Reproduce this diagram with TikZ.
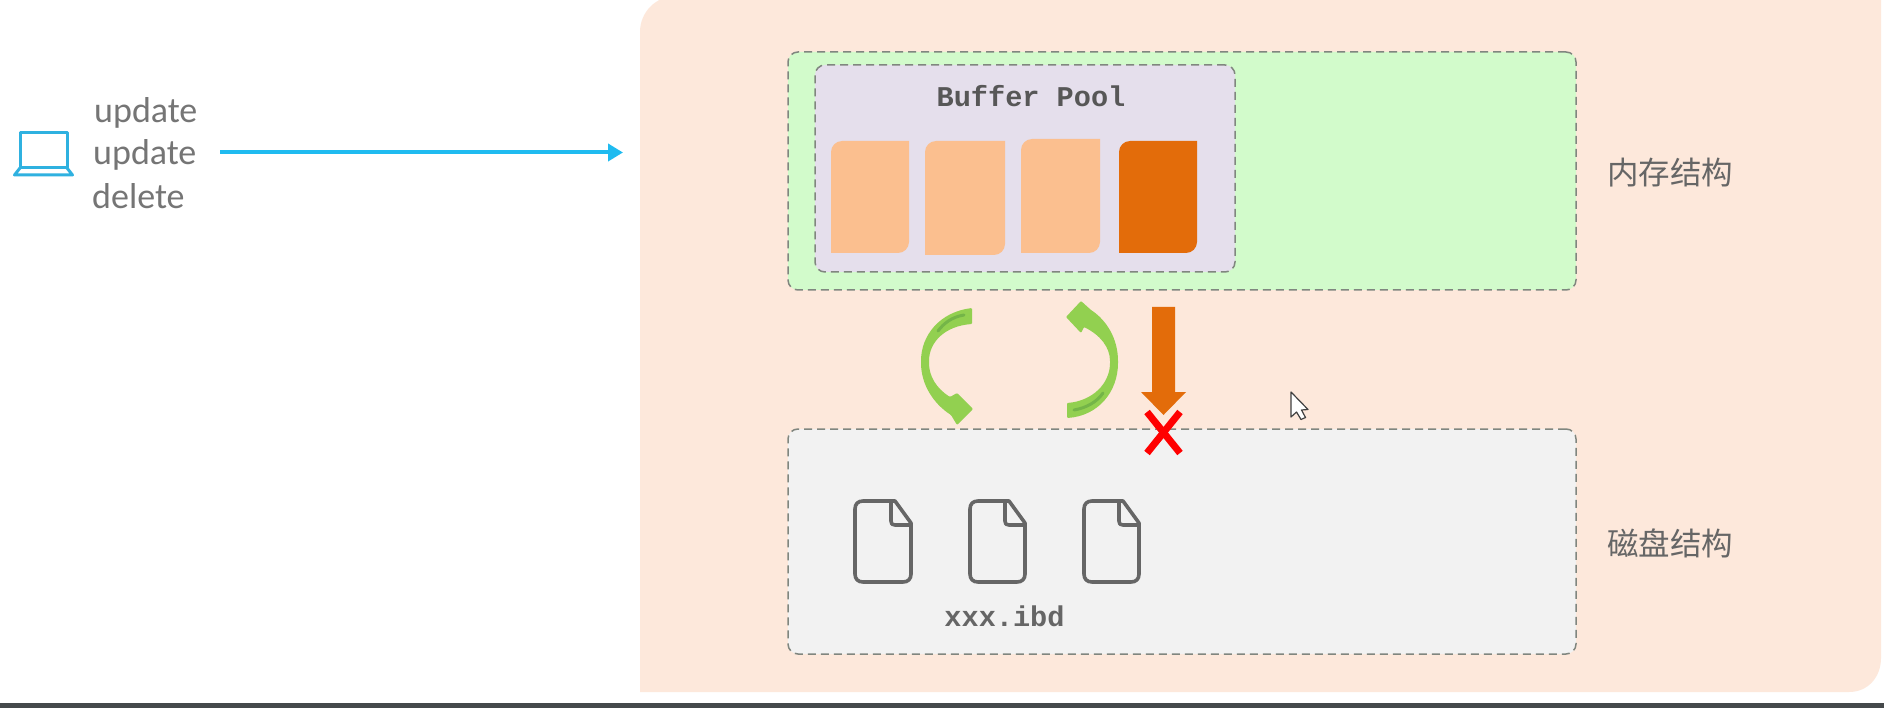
\documentclass[tikz,border=0pt]{standalone}
\usepackage{fontspec}
\setmainfont{Carlito}
\newfontfamily\cjkface{Noto Sans CJK SC}
\newfontfamily\codeface{Liberation Mono}[BoldFont={Liberation Mono Bold}]
\usetikzlibrary{arrows.meta}
\definecolor{peach}{HTML}{FDE8DB}
\definecolor{memgreen}{HTML}{D2FBCB}
\definecolor{poolbg}{HTML}{E5DFEC}
\definecolor{diskbg}{HTML}{F2F2F2}
\definecolor{lightpage}{HTML}{FBBF8F}
\definecolor{darkpage}{HTML}{E36C0A}
\definecolor{swapgreen}{HTML}{92D050}
\definecolor{swapdark}{HTML}{74B548}
\definecolor{linkblue}{HTML}{1FBBF0}
\definecolor{laptopblue}{HTML}{2FB1E0}
\definecolor{dashgrey}{HTML}{80867F}
\definecolor{inkgrey}{HTML}{666666}
\definecolor{softgrey}{HTML}{757575}
\definecolor{barcol}{HTML}{45494B}
\tikzset{
  region/.style={draw=dashgrey,line width=1.5pt,dash pattern=on 8pt off 5pt,rounded corners=10pt,inner sep=0pt},
  sqltext/.style={text=softgrey,font=\fontsize{36}{36}\selectfont,anchor=base west,inner sep=0pt},
  codetext/.style={text=#1,font=\codeface\bfseries\fontsize{28.6}{28.6}\selectfont,anchor=base,inner sep=0pt},
  arealabel/.style={text=inkgrey,font=\cjkface\fontsize{31.5}{31.5}\selectfont,inner sep=0pt},
  fileicon/.style={draw=inkgrey,line width=3.6pt,line join=round},
}
% A page card with its top-left and bottom-right corners rounded
\newcommand{\pagecard}[5]{%
  \fill[#1] (#2,#5) -- (#2,#3+11) .. controls (#2,#3+5) and (#2+5,#3) .. (#2+11,#3) -- (#4,#3)
    -- (#4,#5-11) .. controls (#4,#5-5) and (#4-5,#5) .. (#4-11,#5) -- cycle;}
% A document icon: right, left, top, bottom, fold position
\newcommand{\docicon}[5]{%
  \draw[fileicon] (#5+4,#3) -- (#2+8,#3) .. controls (#2+3,#3) and (#2,#3+3) .. (#2,#3+8) -- (#2,#4-8)
    .. controls (#2,#4-3) and (#2+3,#4) .. (#2+8,#4) -- (#1-8,#4) .. controls (#1-3,#4) and (#1,#4-3) .. (#1,#4-8)
    -- (#1,#3+22) -- cycle;
  \draw[fileicon] (#5,#3) -- (#5,#3+20) .. controls (#5,#3+23) and (#5+1,#3+24) .. (#5+4,#3+24) -- (#1,#3+24);}
\begin{document}
\begin{tikzpicture}[x=1pt,y=-1pt]
\useasboundingbox (0,0) rectangle (1884,708);
\fill[white] (0,0) rectangle (1884,708);

% Outer panel
\fill[peach] (640,692) -- (640,32) .. controls (640,12) and (656,-4) .. (676,-4) -- (1881,-4)
  -- (1881,658) .. controls (1881,677) and (1868,692) .. (1849,692) -- cycle;
\fill[barcol] (0,703) rectangle (1884,708);

% Memory and disk regions
\node[region,fill=memgreen,minimum width=788pt,minimum height=238pt] (memory) at (1182,171) {};
\node[region,fill=diskbg,minimum width=788pt,minimum height=225pt] (disk) at (1182,541.5) {};
\node[region,fill=poolbg,minimum width=420pt,minimum height=207pt] (pool) at (1025,168.5) {};

\node[codetext=inkgrey!85!black] (pooltitle) at (1031,107) {Buffer Pool};
\pagecard{lightpage}{831}{141}{909}{253}
\pagecard{lightpage}{925}{141}{1005}{255}
\pagecard{lightpage}{1021}{139}{1100}{253}
\pagecard{darkpage}{1119}{141}{1197}{253}

\node[arealabel] (memlabel) at (1670,173) {内存结构};
\node[arealabel] (disklabel) at (1670,543) {磁盘结构};

% Data files on disk
\docicon{911}{855}{501}{582}{891}
\docicon{1025}{970}{501}{582}{1005}
\docicon{1139}{1084}{501}{582}{1119}
\node[codetext=inkgrey] (ibd) at (1004.5,626) {xxx.ibd};

% Client with its statements
\draw[laptopblue,line width=3pt,line join=round] (20,168) -- (20,133) -- (67,133) -- (67,168) -- cycle;
\draw[laptopblue,line width=3pt,line join=round] (20,168) -- (14.5,175) -- (72.5,175) -- (67,168);
\node[sqltext] (sql1) at (94,123) {update};
\node[sqltext] (sql2) at (93,165) {update};
\node[sqltext] (sql3) at (92,209) {delete};
\coordinate (linkstart) at (220,152.5);
\coordinate (linkend) at (623,152.5);
\draw[linkblue,line width=4pt,-{Triangle[length=15pt,width=17pt]}] (linkstart) -- (linkend);

% Exchange arrows between memory and disk
\fill[swapgreen,rounded corners=1pt] (972,308) .. controls (940,312) and (921,335) .. (921,362)
  .. controls (921,385) and (934,404) .. (951,415) -- (957,425) -- (973,409) -- (957,393) -- (950,397)
  .. controls (936,388) and (929,376) .. (929,362)
  .. controls (929,342) and (945,326) .. (972,324) -- cycle;
\draw[swapdark,line width=3pt,line cap=round] (964,315) .. controls (952,317) and (944,323) .. (938,331);
\fill[swapgreen,rounded corners=1pt] (1067,418) .. controls (1098,416) and (1118,392) .. (1118,362)
  .. controls (1118,338) and (1106,320) .. (1091,310) -- (1081,301) -- (1066,317) -- (1081,333) -- (1084,327)
  .. controls (1100,335) and (1110,347) .. (1110,362)
  .. controls (1110,384) and (1092,401) .. (1067,403) -- cycle;
\draw[swapdark,line width=3pt,line cap=round] (1074,410) .. controls (1086,408) and (1097,402) .. (1103,393);

% Blocked write from memory to disk
\fill[darkpage] (1152,307) -- (1175,307) -- (1175,392) -- (1186,392) -- (1163.5,415) -- (1141,392) -- (1152,392) -- cycle;
\draw[red,line width=7pt] (1147,412) -- (1180,453) (1180,412) -- (1147,453);

% Mouse pointer
\draw[fill=white,draw=black!75,line width=1.2pt,line join=round] (1291,392) -- (1291,417) -- (1296.5,412)
  -- (1301,419.5) -- (1305.5,417.5) -- (1301.5,410) -- (1308,409.5) -- cycle;
\end{tikzpicture}
\end{document}
